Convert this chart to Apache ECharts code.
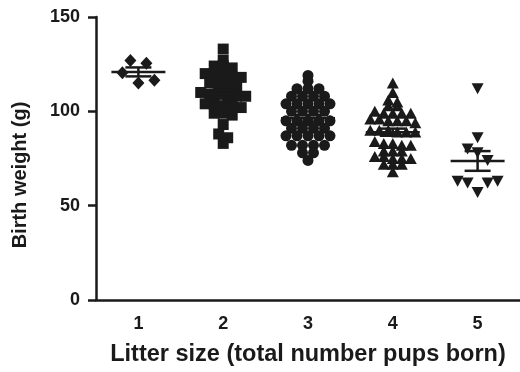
<!DOCTYPE html>
<html>
<head>
<meta charset="utf-8">
<script src="https://cdn.jsdelivr.net/npm/echarts@6/dist/echarts.min.js"></script>
<style>
html,body{margin:0;padding:0;background:#fff;}
#chart{width:520px;height:372px;}
</style>
</head>
<body>
<div id="chart"></div>
<script>
// ---- Data ----
const categories = ['1', '2', '3', '4', '5'];
const yTicks = [0, 50, 100, 150];
const litter1 = [127, 125.5, 120.5, 115, 116.5];
const litter2 = [133, 127, 124, 124, 123, 120, 119, 119, 118, 118, 115, 114, 114, 113,
                 110, 109, 109, 108, 108, 108, 104, 104, 103, 103, 102, 99, 99, 98, 93, 88, 86, 83];
const litter3 = [119, 116, 112, 112, 112, 108, 108, 108, 108, 104, 104, 104, 104, 104,
                 100, 100, 100, 100, 95, 95, 95, 95, 95, 91, 91, 91, 91,
                 87, 87, 87, 87, 87, 82, 82, 82, 82, 78, 78, 74];
const litter4 = [115, 110, 106, 105, 103, 103, 100, 99, 99, 99, 99, 96, 96, 95, 95, 95, 94,
                 90, 90, 90, 89, 89, 89, 84, 83, 83, 82, 82, 79, 79, 79, 76, 76, 75, 75, 75,
                 72, 72, 72, 68];
const litter5 = [112, 86, 80, 78, 74, 63, 62, 57, 62, 63];
const xAxisTitle = 'Litter size (total number pups born)';
const yAxisTitle = 'Birth weight (g)';

// ---- Styling ----
const ink = '#1a1a1a';
const font = "'Liberation Sans', Arial, Helvetica, sans-serif";
const groups = [
  { values: litter1, symbol: 'diamond', size: [12, 13], rotate: 0, gap: 16, rowPx: 8, chain: true },
  { values: litter2, symbol: 'rect', size: 11, rotate: 0, gap: 9, rowPx: 5, chain: false },
  { values: litter3, symbol: 'circle', size: 11, rotate: 0, gap: 11, rowPx: 5, chain: false },
  { values: litter4, symbol: 'triangle', size: [12, 11], rotate: 0, gap: 9, rowPx: 5, chain: false },
  { values: litter5, symbol: 'triangle', size: [12, 11], rotate: 180, gap: 10, rowPx: 10.4, chain: true }
];

const chart = echarts.init(document.getElementById('chart'), null, { renderer: 'canvas' });

const baseOption = {
  animation: false,
  backgroundColor: '#fff',
  grid: { left: 96, right: 0, top: 17, bottom: 71.5, containLabel: false },
  xAxis: [
    {
      type: 'category',
      data: categories,
      boundaryGap: true,
      axisLine: { lineStyle: { color: ink, width: 2.5 } },
      axisTick: { alignWithLabel: true, length: 7, lineStyle: { color: ink, width: 2.5 } },
      axisLabel: { color: ink, fontSize: 18, fontWeight: 'bold', fontFamily: font, margin: 15 },
      splitLine: { show: false },
      name: xAxisTitle,
      nameLocation: 'middle',
      nameGap: 43,
      nameTextStyle: { color: ink, fontSize: 23.5, fontWeight: 'bold', fontFamily: font }
    },
    { type: 'value', min: 0.5, max: 5.5, show: false }
  ],
  yAxis: [{
    type: 'value',
    min: yTicks[0],
    max: yTicks[yTicks.length - 1],
    interval: yTicks[1] - yTicks[0],
    axisLine: { show: true, lineStyle: { color: ink, width: 2.5 } },
    axisTick: { show: true, length: 8, lineStyle: { color: ink, width: 2.5 } },
    axisLabel: { color: ink, fontSize: 18, fontWeight: 'bold', fontFamily: font, margin: 16 },
    splitLine: { show: false }
  }],
  graphic: [{
    type: 'text',
    x: 20.5,
    y: 175,
    rotation: Math.PI / 2,
    style: {
      text: yAxisTitle,
      fill: ink,
      fontSize: 20,
      fontWeight: 'bold',
      fontFamily: font,
      align: 'center',
      verticalAlign: 'middle'
    }
  }],
  series: []
};
chart.setOption(baseOption);

// pixel scales from the library's axes
const pxPerY = chart.convertToPixel({ yAxisIndex: 0 }, 0) - chart.convertToPixel({ yAxisIndex: 0 }, 1);
const pxPerX = chart.convertToPixel({ xAxisIndex: 1 }, 1) - chart.convertToPixel({ xAxisIndex: 1 }, 0);

// column-scatter arrangement: near-equal values share a row, spread symmetrically
function rowOffsets(values, gapPx, rowPx, chain) {
  const hUnits = rowPx / pxPerY;
  const idx = values.map((v, i) => i).sort((a, b) => (values[b] - values[a]) || (a - b));
  const rows = [];
  let cur = null;
  idx.forEach(i => {
    const ref = cur ? (chain ? cur[cur.length - 1] : cur[0]) : null;
    if (cur && values[ref] - values[i] <= hUnits + 1e-9) cur.push(i);
    else { cur = [i]; rows.push(cur); }
  });
  const offs = new Array(values.length).fill(0);
  rows.forEach(r => {
    r.slice().sort((a, b) => a - b).forEach((i, k) => { offs[i] = (k - (r.length - 1) / 2) * gapPx; });
  });
  return offs;
}

const series = [];
const stats = [];
groups.forEach((g, gi) => {
  const xc = gi + 1;
  const offs = rowOffsets(g.values, g.gap, g.rowPx, g.chain);
  series.push({
    type: 'scatter',
    xAxisIndex: 1,
    yAxisIndex: 0,
    symbol: g.symbol,
    symbolSize: g.size,
    symbolRotate: g.rotate,
    itemStyle: { color: ink, opacity: 1 },
    z: 2,
    data: g.values.map((v, i) => [xc + offs[i] / pxPerX, v])
  });
  const n = g.values.length;
  const mean = g.values.reduce((a, b) => a + b, 0) / n;
  const sd = Math.sqrt(g.values.reduce((a, b) => a + (b - mean) * (b - mean), 0) / (n - 1));
  stats.push([xc, mean, sd / Math.sqrt(n)]);
});

series.push({
  type: 'custom',
  xAxisIndex: 1,
  yAxisIndex: 0,
  z: 10,
  encode: { x: 0, y: 1 },
  data: stats,
  renderItem: function (params, api) {
    const x = api.value(0), m = api.value(1), s = api.value(2);
    const c = api.coord([x, m]);
    const t = api.coord([x, m + s]);
    const b = api.coord([x, m - s]);
    const st = { stroke: ink, lineWidth: 2.5 };
    return {
      type: 'group',
      children: [
        { type: 'line', shape: { x1: c[0] - 27, y1: c[1], x2: c[0] + 27, y2: c[1] }, style: st },
        { type: 'line', shape: { x1: c[0], y1: t[1], x2: c[0], y2: b[1] }, style: st },
        { type: 'line', shape: { x1: c[0] - 13, y1: t[1], x2: c[0] + 13, y2: t[1] }, style: st },
        { type: 'line', shape: { x1: c[0] - 13, y1: b[1], x2: c[0] + 13, y2: b[1] }, style: st }
      ]
    };
  }
});

chart.setOption({ series: series });
</script>
</body>
</html>
